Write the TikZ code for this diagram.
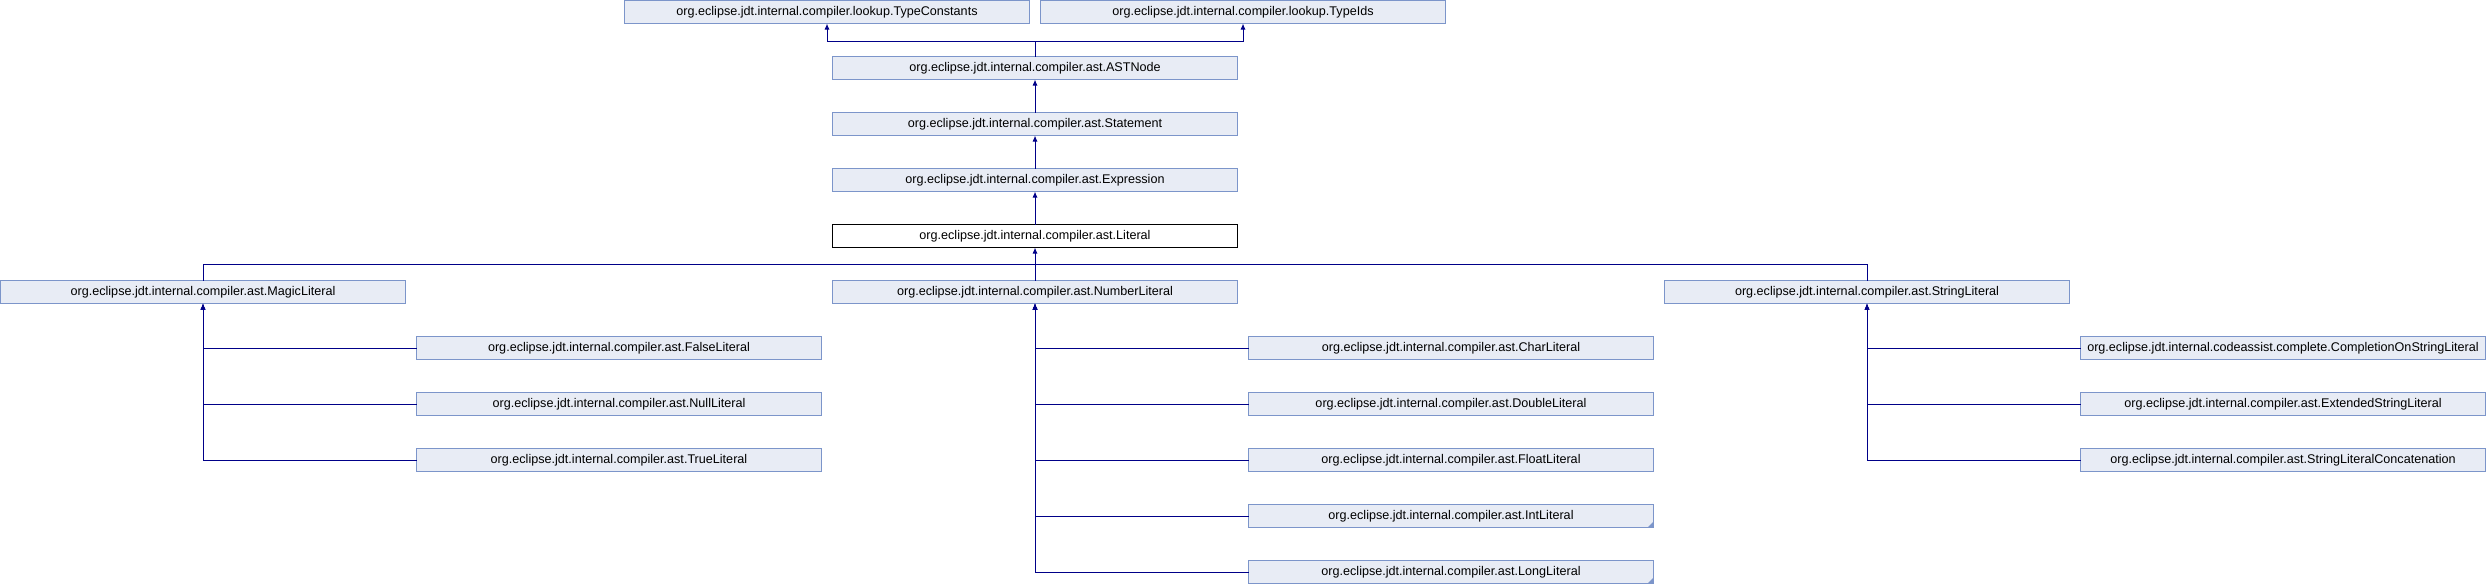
\documentclass[tikz,border=0pt]{standalone}
\usepackage{fontspec}
\setmainfont{Liberation Sans}
\usepackage{tikz}
\usetikzlibrary{arrows.meta,calc}
\definecolor{boxfill}{HTML}{E8ECF5}
\definecolor{boxline}{HTML}{7C95CA}
\definecolor{edgeblue}{HTML}{000088}
\tikzset{
	>={Latex[length=6pt,width=5pt]},  % male strelice
	cls/.style={draw=boxline, fill=boxfill, line width=1pt, minimum width=405pt,
		minimum height=23pt, inner sep=0pt, outer sep=0pt, anchor=north west,
		font=\fontsize{12.6}{14}\selectfont},
	current/.style={cls, draw=black, fill=white},
	edge/.style={edgeblue, line width=1pt},
	trunc/.style={fill=boxline}
}
\begin{document}
\begin{tikzpicture}[x=1pt,y=-1pt]
		\useasboundingbox (0,0) rectangle (2486,584);
		\begin{scope}[shift={(0.5,0.5)}]
		
		% gornji red
		\node[cls] (tconst) at (624,0) {org.eclipse.jdt.internal.compiler.lookup.TypeConstants};
		\node[cls] (tids) at (1040,0) {org.eclipse.jdt.internal.compiler.lookup.TypeIds};
		
		% lanac nasljedivanja
		\node[cls] (astnode) at (832,56) {org.eclipse.jdt.internal.compiler.ast.ASTNode};
		\node[cls] (stmt) at (832,112) {org.eclipse.jdt.internal.compiler.ast.Statement};
		\node[cls] (expr) at (832,168) {org.eclipse.jdt.internal.compiler.ast.Expression};
		\node[current] (lit) at (832,224) {org.eclipse.jdt.internal.compiler.ast.Literal};
		
		% podklase od Literal
		\node[cls] (magic) at (0,280) {org.eclipse.jdt.internal.compiler.ast.MagicLiteral};
		\node[cls] (numl) at (832,280) {org.eclipse.jdt.internal.compiler.ast.NumberLiteral};
		\node[cls] (strl) at (1664,280) {org.eclipse.jdt.internal.compiler.ast.StringLiteral};
		
		% MagicLiteral
		\node[cls] (falsel) at (416,336) {org.eclipse.jdt.internal.compiler.ast.FalseLiteral};
		\node[cls] (nulll) at (416,392) {org.eclipse.jdt.internal.compiler.ast.NullLiteral};
		\node[cls] (truel) at (416,448) {org.eclipse.jdt.internal.compiler.ast.TrueLiteral};
		
		% NumberLiteral
		\node[cls] (charl) at (1248,336) {org.eclipse.jdt.internal.compiler.ast.CharLiteral};
		\node[cls] (doublel) at (1248,392) {org.eclipse.jdt.internal.compiler.ast.DoubleLiteral};
		\node[cls] (floatl) at (1248,448) {org.eclipse.jdt.internal.compiler.ast.FloatLiteral};
		\node[cls] (intl) at (1248,504) {org.eclipse.jdt.internal.compiler.ast.IntLiteral};
		\node[cls] (longl) at (1248,560) {org.eclipse.jdt.internal.compiler.ast.LongLiteral};
		
		% StringLiteral
		\node[cls] (compl) at (2080,336) {org.eclipse.jdt.internal.codeassist.complete.CompletionOnStringLiteral};
		\node[cls] (extl) at (2080,392) {org.eclipse.jdt.internal.compiler.ast.ExtendedStringLiteral};
		\node[cls] (concl) at (2080,448) {org.eclipse.jdt.internal.compiler.ast.StringLiteralConcatenation};
		
		% oznake skracenih cvorova
		\fill[trunc] (intl.south east) -- ++(-6,0) -- ++(6,-6) -- cycle;
		\fill[trunc] (longl.south east) -- ++(-6,0) -- ++(6,-6) -- cycle;
		
		% veze
		\coordinate (jtop) at (astnode.north |- 0,41);
		\coordinate (jlit) at (lit.south |- 0,264);
		\draw[edge,->] (astnode.north) -- (jtop) -| (tconst.south);
		\draw[edge,->] (jtop) -| (tids.south);
		\draw[edge,->] (stmt.north) -- (astnode.south);
		\draw[edge,->] (expr.north) -- (stmt.south);
		\draw[edge,->] (lit.north) -- (expr.south);
		\draw[edge] (magic.north) |- (jlit) -| (strl.north);
		\draw[edge,->] (numl.north) -- (lit.south);
		
		\foreach \c in {falsel,nulll,truel}
		\draw[edge,->] (\c.west) -| (magic.south);
		\foreach \c in {charl,doublel,floatl,intl,longl}
		\draw[edge,->] (\c.west) -| (numl.south);
		\foreach \c in {compl,extl,concl}
		\draw[edge,->] (\c.west) -| (strl.south);
		\end{scope}
	\end{tikzpicture}
\end{document}
